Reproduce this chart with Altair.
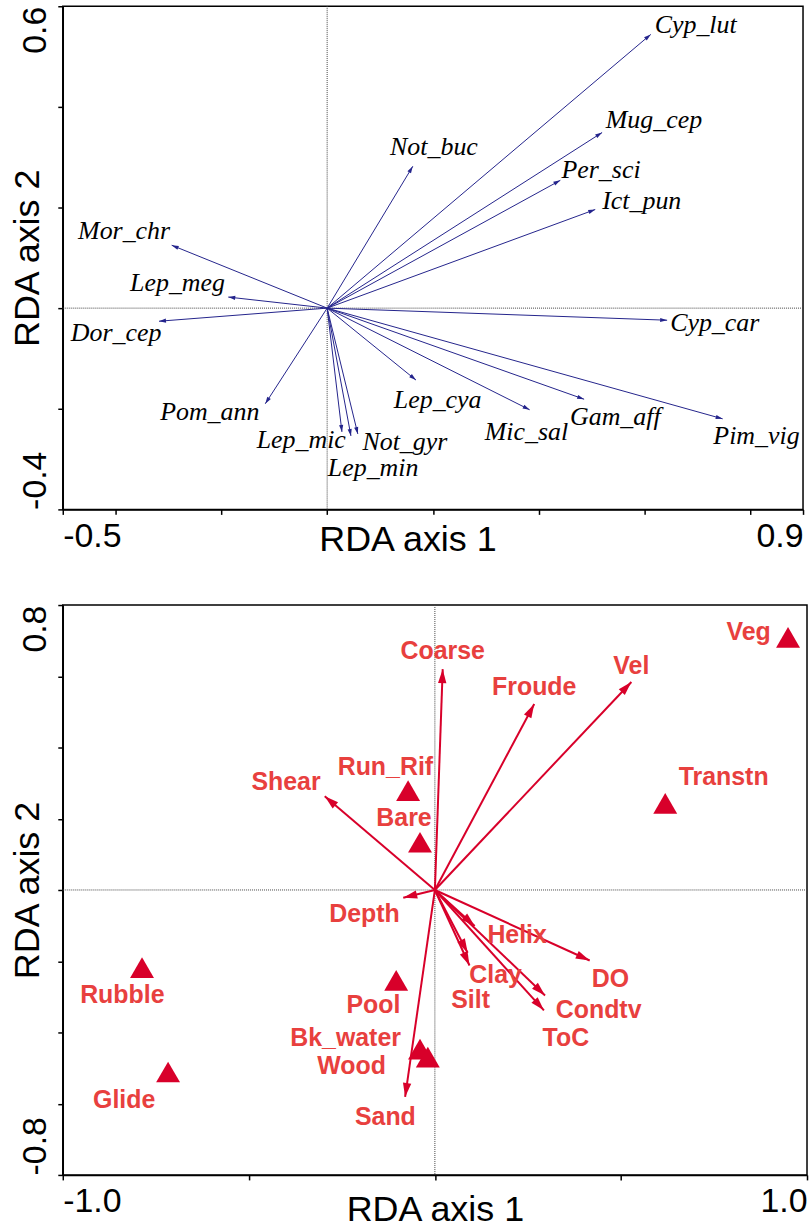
import math

import altair as alt
import pandas as pd

# ---------------- species scores (upper biplot) ----------------
species = ["Cyp_lut", "Mug_cep", "Per_sci", "Ict_pun", "Not_buc", "Mor_chr",
           "Lep_meg", "Dor_cep", "Cyp_car", "Pim_vig", "Gam_aff", "Mic_sal",
           "Lep_cya", "Pom_ann", "Lep_mic", "Lep_min", "Not_gyr"]
sp_x = [0.612, 0.520, 0.441, 0.507, 0.162, -0.294, -0.187, -0.318, 0.643,
        0.748, 0.486, 0.383, 0.168, -0.117, 0.028, 0.045, 0.058]
sp_y = [0.544, 0.349, 0.254, 0.196, 0.282, 0.125, 0.022, -0.026, -0.024,
        -0.220, -0.181, -0.202, -0.143, -0.190, -0.246, -0.254, -0.250]
sp_lab_x = [0.697, 0.618, 0.518, 0.595, 0.202, -0.384, -0.283, -0.399, 0.733,
            0.812, 0.545, 0.377, 0.209, -0.222, -0.049, 0.087, 0.147]
sp_lab_y = [0.563, 0.373, 0.274, 0.212, 0.321, 0.153, 0.050, -0.050, -0.030,
            -0.254, -0.216, -0.246, -0.183, -0.206, -0.262, -0.317, -0.266]

# ---------------- environmental variables (lower biplot) ----------------
env = ["Coarse", "Froude", "Vel", "Shear", "Depth", "Helix", "DO", "Clay",
       "Silt", "Condtv", "ToC", "Sand"]
env_x = [0.021, 0.267, 0.528, -0.296, -0.085, 0.107, 0.416, 0.088, 0.093,
         0.296, 0.293, -0.080]
env_y = [0.620, 0.522, 0.584, 0.263, -0.022, -0.101, -0.198, -0.176, -0.212,
         -0.296, -0.338, -0.581]
env_lab_x = [0.021, 0.267, 0.528, -0.400, -0.189, 0.221, 0.472, 0.163, 0.096,
             0.440, 0.352, -0.133]
env_lab_y = [0.670, 0.570, 0.628, 0.304, -0.067, -0.126, -0.249, -0.240,
             -0.310, -0.338, -0.416, -0.637]

# habitat class centroids
habitats = ["Veg", "Transtn", "Run_Rif", "Bare", "Pool", "Bk_water", "Wood",
            "Rubble", "Glide"]
hab_x = [0.949, 0.619, -0.072, -0.040, -0.104, -0.040, -0.019, -0.787, -0.717]
hab_y = [0.709, 0.243, 0.279, 0.134, -0.254, -0.447, -0.469, -0.218, -0.511]
hab_lab_x = [0.843, 0.776, -0.133, -0.083, -0.165, -0.240, -0.224, -0.840, -0.835]
hab_lab_y = [0.723, 0.316, 0.346, 0.201, -0.324, -0.416, -0.494, -0.296, -0.589]

# ---------------- layout constants ----------------
W1, H1 = 743, 505
W2, H2 = 747, 572
X1, Y1 = [-0.5, 0.9], [-0.4, 0.6]
X2, Y2 = [-1.0, 1.0], [-0.8, 0.8]

SANS = "Liberation Sans"
SERIF = "Liberation Serif"
BLUE = "#24248c"
RED = "#d8002a"
RED_TEXT = "#e8403e"
HEAD = "M0,0L-0.6,2L0.6,2Z"


def head_angle(x, y, kx, ky):
    """Clockwise rotation (degrees from 'up') of an arrow from origin to (x, y)."""
    return math.degrees(math.atan2(x * kx, y * ky)) % 360


def end_label_expr(lo, hi):
    return (f"abs(datum.value - ({lo})) < 1e-6 || abs(datum.value - ({hi})) < 1e-6"
            " ? (datum.value < 0 ? '-' : '') + format(abs(datum.value), '.1f') : ''")


def x_axis(values, lo, hi, title_x, title_y):
    return alt.Axis(
        values=values, labelExpr=end_label_expr(lo, hi), labelFlush=True,
        labelOverlap=False, labelFont=SANS, labelFontSize=34, labelColor="black",
        labelPadding=5, tickSize=5, tickColor="black", tickWidth=1.5,
        domainColor="black", domainWidth=1.5, grid=False,
        title="RDA axis 1", titleFont=SANS, titleFontSize=36,
        titleFontWeight="normal", titleColor="black",
        titleX=title_x, titleY=title_y, titleBaseline="middle", titleAlign="center",
    )


def y_axis(values, lo, hi, height):
    return alt.Axis(
        values=values, labelExpr=end_label_expr(lo, hi), labelOverlap=False,
        labelAngle=270,
        labelAlign={"condition": {"test": "datum.value > 0", "value": "right"},
                    "value": "left"},
        labelBaseline="bottom", labelFont=SANS, labelFontSize=34,
        labelColor="black", labelPadding=5, tickSize=5, tickColor="black",
        tickWidth=1.5, domainColor="black", domainWidth=1.5, grid=False,
        title="RDA axis 2", titleFont=SANS, titleFontSize=36,
        titleFontWeight="normal", titleColor="black", titleAngle=270,
        titleX=-35, titleY=height / 2, titleBaseline="middle", titleAlign="center",
    )


def zero_lines(ex, ey):
    zero = pd.DataFrame({"v": [0.0]})
    h = alt.Chart(zero).mark_rule(color="#444444", strokeWidth=1,
                                  strokeDash=[1, 1]).encode(y=alt.Y("v:Q", scale=ey[0], axis=ey[1]))
    v = alt.Chart(zero).mark_rule(color="#444444", strokeWidth=1,
                                  strokeDash=[1, 1]).encode(x=alt.X("v:Q", scale=ex[0], axis=ex[1]))
    return h + v


# ---------------- upper panel: species ----------------
sx1 = alt.Scale(domain=X1, nice=False, zero=False)
sy1 = alt.Scale(domain=Y1, nice=False, zero=False)
ax1 = x_axis([-0.5, -0.4, -0.2, 0.0, 0.2, 0.4, 0.6, 0.8, 0.9], -0.5, 0.9, 346, 30)
ay1 = y_axis([-0.4, -0.2, 0.0, 0.2, 0.4, 0.6], -0.4, 0.6, H1)
kx1, ky1 = W1 / (X1[1] - X1[0]), H1 / (Y1[1] - Y1[0])

sp = pd.DataFrame({
    "name": species, "x": sp_x, "y": sp_y, "lx": sp_lab_x, "ly": sp_lab_y,
    "x0": 0.0, "y0": 0.0,
    "angle": [head_angle(a, b, kx1, ky1) for a, b in zip(sp_x, sp_y)],
})

sp_lines = alt.Chart(sp).mark_rule(color=BLUE, strokeWidth=1).encode(
    x=alt.X("x:Q", scale=sx1, axis=ax1), y=alt.Y("y:Q", scale=sy1, axis=ay1),
    x2="x0:Q", y2="y0:Q")
sp_heads = alt.Chart(sp).mark_point(shape=HEAD, filled=True, color=BLUE,
                                    size=49, opacity=1, strokeWidth=0).encode(
    x=alt.X("x:Q", scale=sx1, axis=ax1), y=alt.Y("y:Q", scale=sy1, axis=ay1),
    angle=alt.Angle("angle:Q", scale=None))
sp_text = alt.Chart(sp).mark_text(font=SERIF, fontStyle="italic", fontSize=26,
                                  color="black", align="center",
                                  baseline="middle").encode(
    x=alt.X("lx:Q", scale=sx1, axis=ax1), y=alt.Y("ly:Q", scale=sy1, axis=ay1),
    text="name:N")

top = alt.layer(
    zero_lines((sx1, ax1), (sy1, ay1)), sp_lines, sp_heads, sp_text
).properties(width=W1, height=H1)

# ---------------- lower panel: environment + habitats ----------------
sx2 = alt.Scale(domain=X2, nice=False, zero=False)
sy2 = alt.Scale(domain=Y2, nice=False, zero=False)
ax2 = x_axis([-1.0, -0.5, 0.0, 0.5, 1.0], -1.0, 1.0, W2 / 2, 35)
ay2 = y_axis([-0.8, -0.6, -0.4, -0.2, 0.0, 0.2, 0.4, 0.6, 0.8], -0.8, 0.8, H2)
kx2, ky2 = W2 / (X2[1] - X2[0]), H2 / (Y2[1] - Y2[0])

ev = pd.DataFrame({
    "name": env, "x": env_x, "y": env_y, "lx": env_lab_x, "ly": env_lab_y,
    "x0": 0.0, "y0": 0.0,
    "angle": [head_angle(a, b, kx2, ky2) for a, b in zip(env_x, env_y)],
})
hb = pd.DataFrame({"name": habitats, "x": hab_x, "y": hab_y,
                   "lx": hab_lab_x, "ly": hab_lab_y})

ev_lines = alt.Chart(ev).mark_rule(color=RED, strokeWidth=2).encode(
    x=alt.X("x:Q", scale=sx2, axis=ax2), y=alt.Y("y:Q", scale=sy2, axis=ay2),
    x2="x0:Q", y2="y0:Q")
ev_heads = alt.Chart(ev).mark_point(shape=HEAD, filled=True, color=RED,
                                    size=196, opacity=1, strokeWidth=0).encode(
    x=alt.X("x:Q", scale=sx2, axis=ax2), y=alt.Y("y:Q", scale=sy2, axis=ay2),
    angle=alt.Angle("angle:Q", scale=None))
ev_text = alt.Chart(ev).mark_text(font=SANS, fontWeight="bold", fontSize=25,
                                  color=RED_TEXT, align="center",
                                  baseline="middle").encode(
    x=alt.X("lx:Q", scale=sx2, axis=ax2), y=alt.Y("ly:Q", scale=sy2, axis=ay2),
    text="name:N")
hb_marks = alt.Chart(hb).mark_point(shape="triangle-up", filled=True, color=RED,
                                    size=576, opacity=1, strokeWidth=0).encode(
    x=alt.X("x:Q", scale=sx2, axis=ax2), y=alt.Y("y:Q", scale=sy2, axis=ay2))
hb_text = alt.Chart(hb).mark_text(font=SANS, fontWeight="bold", fontSize=25,
                                  color=RED_TEXT, align="center",
                                  baseline="middle").encode(
    x=alt.X("lx:Q", scale=sx2, axis=ax2), y=alt.Y("ly:Q", scale=sy2, axis=ay2),
    text="name:N")

bottom = alt.layer(
    zero_lines((sx2, ax2), (sy2, ay2)), ev_lines, ev_heads, hb_marks, ev_text, hb_text
).properties(width=W2, height=H2)

chart = alt.vconcat(top, bottom, spacing=45).properties(
    padding={"left": 9, "top": 2, "right": 0, "bottom": 0},
    background="white",
).configure_view(stroke="black", strokeWidth=1.5)

chart.save("out.html", embed_options={"renderer": "svg", "actions": False})
